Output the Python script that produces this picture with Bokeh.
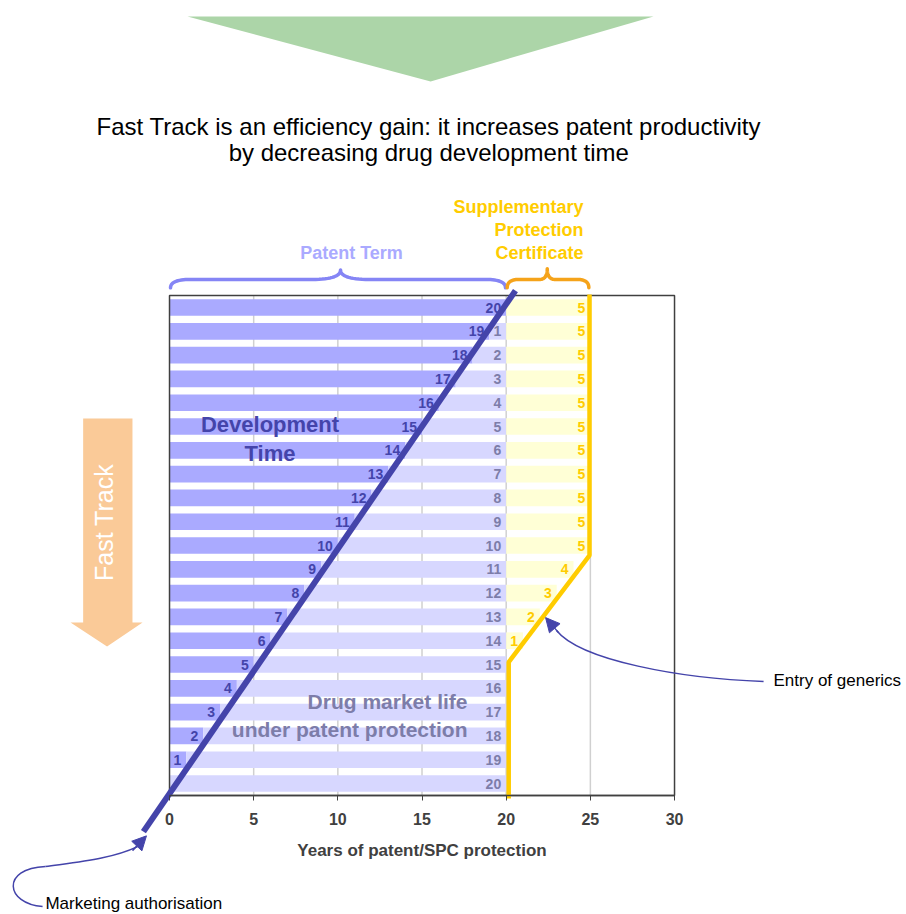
import numpy as np
from bokeh.plotting import figure
from bokeh.models import Range1d, LinearAxis, FixedTicker, ColumnDataSource, Arrow, NormalHead
from bokeh.core.properties import value
from bokeh.embed import file_html
from bokeh.resources import INLINE

# ---- data: one row per scenario, top row = 20 years of development ----
row_position = [20, 19, 18, 17, 16, 15, 14, 13, 12, 11, 10, 9, 8, 7, 6, 5, 4, 3, 2, 1, 0]
development_years = [20, 19, 18, 17, 16, 15, 14, 13, 12, 11, 10, 9, 8, 7, 6, 5, 4, 3, 2, 1, 0]
market_years = [0, 1, 2, 3, 4, 5, 6, 7, 8, 9, 10, 11, 12, 13, 14, 15, 16, 17, 18, 19, 20]
spc_years = [5, 5, 5, 5, 5, 5, 5, 5, 5, 5, 5, 4, 3, 2, 1, 0, 0, 0, 0, 0, 0]
x_ticks = [0, 5, 10, 15, 20, 25, 30]

FONT = value("Liberation Sans")
DEV_BLUE = "#4444AA"
DEV_FILL = "#AAAAFF"
MARKET_FILL = "#D7D7FF"
MARKET_TEXT = "#7D7DA9"
SPC_FILL = "#FFFFD6"
SPC_GOLD = "#FFCC00"
AXIS_GREY = "#404040"

dev = np.array(development_years, dtype=float)
market = np.array(market_years, dtype=float)
spc = np.array(spc_years, dtype=float)
patent_end = dev + market
spc_end = patent_end + spc

bars = ColumnDataSource(dict(y=row_position, dev=dev, patent_end=patent_end, spc_end=spc_end))

# the frame covers the whole page; chart units: 1 year across, 1 row down
p = figure(width=906, height=914, x_range=Range1d(-10.04, 43.78), y_range=Range1d(-5.504, 32.90),
           x_axis_type=None, y_axis_type=None, toolbar_location=None, output_backend="svg",
           min_border=0, min_border_left=0, min_border_right=0, min_border_top=0, min_border_bottom=0)
p.outline_line_color = None
p.xgrid.visible = False
p.ygrid.visible = False
p.background_fill_color = "white"
p.border_fill_color = "white"

# vertical grid lines inside the plot box
grid_x = [t for t in x_ticks if 0 < t < 30]
p.segment(x0=grid_x, x1=grid_x, y0=[-0.5] * len(grid_x), y1=[20.5] * len(grid_x),
          line_color="#D0D0D0", line_width=1.5)

# stacked bars: development, market life under patent, SPC extension
p.hbar(y="y", left=0, right="dev", height=0.7, source=bars, fill_color=DEV_FILL, line_color=None)
p.hbar(y="y", left="dev", right="patent_end", height=0.7, source=bars, fill_color=MARKET_FILL, line_color=None)
p.hbar(y="y", left="patent_end", right="spc_end", height=0.7, source=bars, fill_color=SPC_FILL, line_color=None)

# plot box
p.quad(left=[0], right=[30], bottom=[-0.5], top=[20.5], fill_color=None, line_color=AXIS_GREY, line_width=1.5)

# value labels at the inner end of each segment
def labels(xs, vals, color):
    keep = [i for i, v in enumerate(vals) if v > 0]
    src = ColumnDataSource(dict(x=[xs[i] for i in keep], y=[row_position[i] for i in keep],
                                t=[str(int(vals[i])) for i in keep]))
    p.text(x="x", y="y", text="t", source=src, text_align="right", text_baseline="middle",
           x_offset=-5, text_font=FONT, text_font_style="bold", text_font_size="14px", text_color=color)

labels(list(dev), development_years, DEV_BLUE)
labels(list(patent_end), market_years, MARKET_TEXT)
labels(list(spc_end), spc_years, SPC_GOLD)

# x axis drawn along the bottom of the plot box
xaxis = LinearAxis(fixed_location=-0.5, bounds=(0, 30), ticker=FixedTicker(ticks=x_ticks),
                   axis_label="Years of patent/SPC protection")
xaxis.axis_line_color = AXIS_GREY
xaxis.axis_line_width = 1.5
xaxis.major_tick_line_color = AXIS_GREY
xaxis.major_tick_out = 5
xaxis.major_tick_in = 0
xaxis.minor_tick_line_color = None
xaxis.major_label_standoff = 13
xaxis.major_label_text_font = "Liberation Sans"
xaxis.major_label_text_font_style = "bold"
xaxis.major_label_text_font_size = "16px"
xaxis.major_label_text_color = AXIS_GREY
xaxis.axis_label_standoff = 12
xaxis.axis_label_text_font = "Liberation Sans"
xaxis.axis_label_text_font_style = "bold"
xaxis.axis_label_text_font_size = "17px"
xaxis.axis_label_text_color = AXIS_GREY
p.add_layout(xaxis, "below")

# SPC boundary: expiry of protection, generics enter
p.line(x=[24.95, 24.95, 20.15, 20.15], y=[20.55, 9.59, 5.10, -0.63], line_color=SPC_GOLD, line_width=4.5)

# development time diagonal
p.line(x=[-1.55, 20.55], y=[-2.02, 20.71], line_color=DEV_BLUE, line_width=6)

# braces above the plot
def qbez(p0, c, p1, n=16):
    t = np.linspace(0, 1, n)
    x = (1 - t) ** 2 * p0[0] + 2 * (1 - t) * t * c[0] + t ** 2 * p1[0]
    y = (1 - t) ** 2 * p0[1] + 2 * (1 - t) * t * c[1] + t ** 2 * p1[1]
    return list(x), list(y)

def brace(x0, x1, xm, yb, yt, yp, r_end, r_mid, color):
    xs, ys = [], []
    for seg in [qbez((x0, yb), (x0, yt), (x0 + r_end, yt)),
                qbez((xm - r_mid, yt), (xm, yt), (xm, yp)),
                qbez((xm, yp), (xm, yt), (xm + r_mid, yt)),
                qbez((x1 - r_end, yt), (x1, yt), (x1, yb))]:
        xs += seg[0]
        ys += seg[1]
    p.line(x=xs, y=ys, line_color=color, line_width=3.5, line_join="round", line_cap="round")

brace(0.06, 19.96, 10.16, 20.83, 21.18, 21.58, 1.2, 1.7, "#8585F5")
brace(20.06, 24.91, 22.44, 20.83, 21.18, 21.63, 0.7, 0.45, "#F5A31A")

def note(x, y, text, color, size, style="bold", align="center", angle=0.0):
    p.text(x=[x], y=[y], text=[text], text_align=align, text_baseline="middle", angle=angle,
           text_font=FONT, text_font_style=style, text_font_size=size, text_color=color)

note(10.81, 22.28, "Patent Term", "#AAAAFF", "18px")
note(24.59, 24.21, "Supplementary", SPC_GOLD, "18px", align="right")
note(24.59, 23.26, "Protection", SPC_GOLD, "18px", align="right")
note(24.59, 22.28, "Certificate", SPC_GOLD, "18px", align="right")

note(5.97, 15.07, "Development", DEV_BLUE, "22px")
note(5.97, 13.88, "Time", DEV_BLUE, "22px")
note(17.70, 3.46, "Drug market life", MARKET_TEXT, "21px", align="right")
note(17.70, 2.26, "under patent protection", MARKET_TEXT, "21px", align="right")

# heading with the green arrow above it
p.patch(x=[1.07, 28.75, 15.51], y=[32.23, 32.23, 29.50], fill_color="#ACD5A8", line_color=None)
note(15.40, 27.60, "Fast Track is an efficiency gain: it increases patent productivity", "black", "24px", style="normal")
note(15.40, 26.53, "by decreasing drug development time", "black", "24px", style="normal")

# Fast Track arrow on the left
p.patch(x=[-5.13, -2.20, -2.20, -1.60, -3.71, -5.88, -5.13],
        y=[15.34, 15.34, 6.76, 6.76, 5.76, 6.76, 6.76], fill_color="#FACA98", line_color=None)
note(-3.89, 10.97, "Fast Track", "white", "25px", style="normal", angle=np.pi / 2)

# callouts
note(35.88, 4.33, "Entry of generics", "black", "17px", style="normal", align="left")
p.bezier(x0=[35.29], y0=[4.29], x1=[22.99], y1=[6.43], cx0=[30.36], cy0=[4.41], cx1=[24.42], cy1=[5.17],
         line_color=DEV_BLUE, line_width=1.5)
p.add_layout(Arrow(end=NormalHead(size=14, fill_color=DEV_BLUE, line_color=DEV_BLUE),
                   x_start=23.11, y_start=6.34, x_end=22.34, y_end=6.97, line_color=DEV_BLUE, line_width=1.5))

note(-7.37, -5.04, "Marketing authorisation", "black", "17px", style="normal", align="left")
p.bezier(x0=[-7.54], y0=[-5.17], x1=[-7.37], y1=[-3.49], cx0=[-9.74], cy0=[-5.05], cx1=[-10.04], cy1=[-3.57],
         line_color=DEV_BLUE, line_width=1.5)
p.bezier(x0=[-7.37], y0=[-3.49], x1=[-1.90], y1=[-2.65], cx0=[-5.29], cy0=[-3.28], cx1=[-3.38], cy1=[-3.15],
         line_color=DEV_BLUE, line_width=1.5)
p.add_layout(Arrow(end=NormalHead(size=14, fill_color=DEV_BLUE, line_color=DEV_BLUE),
                   x_start=-2.20, y_start=-2.82, x_end=-1.37, y_end=-2.20, line_color=DEV_BLUE, line_width=1.5))

open("out.html", "w").write(file_html(p, INLINE))
